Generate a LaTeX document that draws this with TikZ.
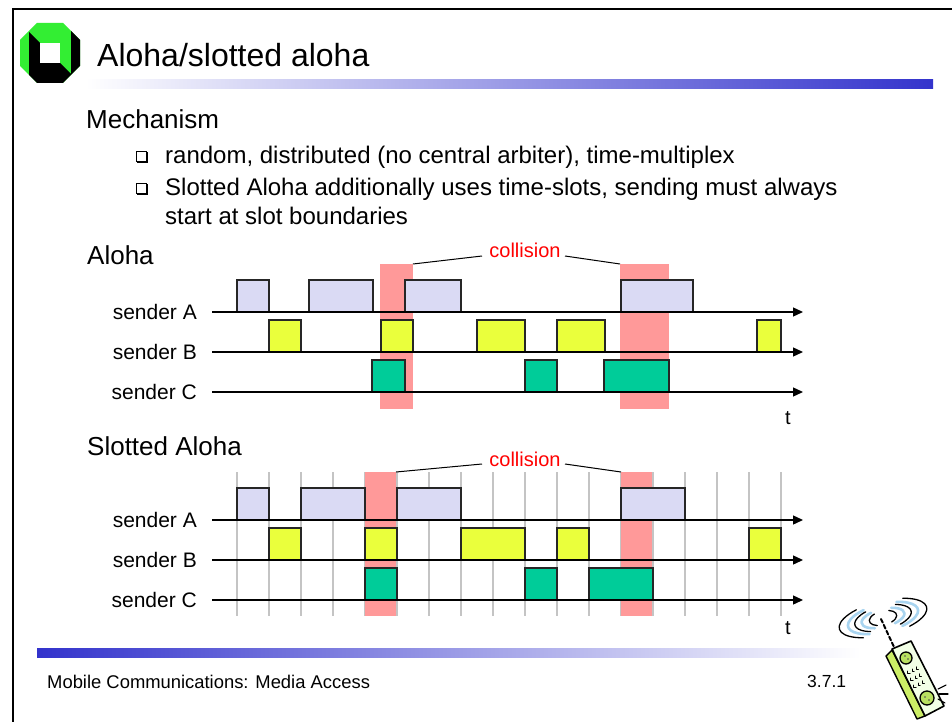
\documentclass[tikz,border=0pt]{standalone}
\usepackage{fontspec}
\setmainfont{Liberation Sans}
\usetikzlibrary{arrows.meta}

\definecolor{pktA}{HTML}{DADAF4}
\definecolor{pktB}{HTML}{EAFF3C}
\definecolor{pktC}{HTML}{00CC99}
\definecolor{hit}{HTML}{FF9999}
\definecolor{barblue}{HTML}{3333CC}
\definecolor{barmid}{HTML}{BBBBE8}
\definecolor{logogreen}{HTML}{33EE33}
\definecolor{gridgray}{HTML}{C4C4C4}
\definecolor{wave}{HTML}{A8D4F0}
\definecolor{phoneface}{HTML}{F2FFE6}
\definecolor{phonelime}{HTML}{CCEE66}
\definecolor{btngreen}{HTML}{B8E060}

\newcommand\fs[2]{\fontsize{#1}{#2}\selectfont}
% shadowed square bullet, top-left corner at (#1,#2)
\newcommand\sqbullet[2]{%
  \draw[line width=0.9pt] (#1,#2) rectangle (#1+10,#2+10);
  \draw[line width=2pt] (#1+1,#2+11.3) -- (#1+11.3,#2+11.3) -- (#1+11.3,#2+1);}

\tikzset{
  pkt/.style={draw=black!85, line width=1.3pt},
  timeline/.style={line width=1.3pt, -{Triangle[length=10pt,width=9pt]}},
  slotline/.style={draw=gridgray, line width=1.2pt},
  lbl/.style={font=\fs{21}{25}, inner sep=0pt, anchor=east},
  colltext/.style={text=red, font=\fs{20}{24}, inner sep=0pt},
  leader/.style={line width=1pt},
  tlabel/.style={font=\fs{20}{24}, inner sep=0pt},
  heading/.style={anchor=base west, inner sep=0pt, font=\fs{26}{31}},
  bodytext/.style={anchor=base west, inner sep=0pt, font=\fs{24}{28}},
}

\begin{document}
\begin{tikzpicture}[x=1pt,y=-1pt]
\useasboundingbox (0,0) rectangle (952,722);
\fill[white] (0,0) rectangle (952,722);

% slide frame (top and left edges)
\draw[line width=2pt] (13,722) -- (13,9) -- (952,9);

% university logo
\begin{scope}[shift={(20,23)}]
  \fill[logogreen] (17,0) -- (43,0) -- (60,17) -- (60,43) -- (43,60) -- (17,60) -- (0,43) -- (0,17) -- cycle;
  \fill[black] (51,8) -- (60,17) -- (60,43) -- (43,60) -- (17,60) -- (9,52) -- (9,51) -- (51,51) -- cycle;
  \fill[black] (9,9) -- (20,20) -- (20,40) -- (40,40) -- (51,51) -- (9,51) -- cycle;
  \fill[white] (20,20) rectangle (40,40);
\end{scope}

% title and header bar
\node[anchor=base west, inner sep=0pt, font=\fs{32}{38}] (title) at (97,67) {Aloha/slotted aloha};
\shade[left color=white, middle color=barmid, right color=barblue] (85,80) rectangle (933,89);

% body text
\node[heading] (mech) at (86,129) {Mechanism};
\sqbullet{136}{151}
\node[bodytext] (b1) at (165,164) {random, distributed (no central arbiter), time-multiplex};
\sqbullet{136}{183}
\node[bodytext] (b2) at (165,196) {Slotted Aloha additionally uses time-slots, sending must always};
\node[bodytext] (b3) at (165,224) {start at slot boundaries};

% ---------------- pure Aloha ----------------
\node[heading] (aloha) at (87,264) {Aloha};
\fill[hit] (380,264) rectangle (413,409);
\fill[hit] (620,264) rectangle (669,409);
\coordinate (ahit1) at (413,264);
\coordinate (ahit2) at (620,264);

% sender A
\foreach \a/\b in {237/269, 309/373, 405/461, 621/693}
  \filldraw[pkt, fill=pktA] (\a,280) rectangle (\b,312);
% sender B
\foreach \a/\b in {269/301, 381/413, 477/525, 557/605, 757/781}
  \filldraw[pkt, fill=pktB] (\a,320) rectangle (\b,352);
% sender C
\foreach \a/\b in {372/405, 525/557, 604/669}
  \filldraw[pkt, fill=pktC] (\a,360) rectangle (\b,392);

\node[lbl] (asA) at (197,312) {sender A};
\node[lbl] (asB) at (197,352) {sender B};
\node[lbl] (asC) at (197,392) {sender C};
\coordinate (aendA) at (803,312);
\coordinate (aendB) at (803,352);
\coordinate (aendC) at (803,392);
\draw[timeline] (212,312) -- (aendA);
\draw[timeline] (212,352) -- (aendB);
\draw[timeline] (212,392) -- (aendC);
\node[tlabel] (at) at (788,418) {t};

\node[colltext] (acoll) at (525,250) {collision};
\coordinate (acollL) at (482,256);
\coordinate (acollR) at (565,256);
\draw[leader] (ahit1) -- (acollL);
\draw[leader] (acollR) -- (ahit2);

% ---------------- slotted Aloha ----------------
\node[heading] (slotted) at (87,455) {Slotted Aloha};
\foreach \k in {0,...,17}
  \draw[slotline] (237+32*\k,472) -- (237+32*\k,616);
\fill[hit] (365,472) rectangle (396,616);
\fill[hit] (621,472) rectangle (652,616);
\coordinate (shit1) at (396,472);
\coordinate (shit2) at (621,472);

% sender A (slot indices)
\foreach \a/\b in {0/1, 2/4, 5/7, 12/14}
  \filldraw[pkt, fill=pktA] (237+32*\a,488) rectangle (237+32*\b,520);
% sender B
\foreach \a/\b in {1/2, 4/5, 7/9, 10/11, 16/17}
  \filldraw[pkt, fill=pktB] (237+32*\a,528) rectangle (237+32*\b,560);
% sender C
\foreach \a/\b in {4/5, 9/10, 11/13}
  \filldraw[pkt, fill=pktC] (237+32*\a,568) rectangle (237+32*\b,600);

\node[lbl] (ssA) at (197,520) {sender A};
\node[lbl] (ssB) at (197,560) {sender B};
\node[lbl] (ssC) at (197,600) {sender C};
\coordinate (sendA) at (803,520);
\coordinate (sendB) at (803,560);
\coordinate (sendC) at (803,600);
\draw[timeline] (212,520) -- (sendA);
\draw[timeline] (212,560) -- (sendB);
\draw[timeline] (212,600) -- (sendC);
\node[tlabel] (st) at (788,628) {t};

\node[colltext] (scoll) at (525,459) {collision};
\coordinate (scollL) at (482,464);
\coordinate (scollR) at (565,464);
\draw[leader] (shit1) -- (scollL);
\draw[leader] (scollR) -- (shit2);

% footer
\shade[left color=barblue, middle color=barmid, right color=white] (37,648) rectangle (860,657);
\node[anchor=base west, inner sep=0pt, font=\fs{18.4}{22}] (foot) at (47,688) {Mobile Communications: Media Access};
\node[anchor=base west, inner sep=0pt, font=\fs{17.5}{21}] (page) at (807,687) {3.7.1};

% mobile phone sketch
\begin{scope}[line join=round, line cap=round]
  % radio waves around the antenna tip, tilted
  \begin{scope}[rotate around={14:(883,618)}]
    \foreach \rx/\ry in {22/9, 36/14}{
      \draw[wave, line width=2.6pt] ({883+\rx*cos(118)},{618+\ry*sin(118)}) arc[start angle=118, end angle=242, x radius=\rx, y radius=\ry];
      \draw[wave, line width=2.6pt] ({883+\rx*cos(-62)},{618+\ry*sin(-62)}) arc[start angle=-62, end angle=62, x radius=\rx, y radius=\ry];
    }
    \foreach \rx/\ry in {14/7, 29/12, 45/17}{
      \draw[line width=1.3pt] ({883+\rx*cos(122)},{618+\ry*sin(122)}) arc[start angle=122, end angle=238, x radius=\rx, y radius=\ry];
      \draw[line width=1.3pt] ({883+\rx*cos(-58)},{618+\ry*sin(-58)}) arc[start angle=-58, end angle=58, x radius=\rx, y radius=\ry];
    }
  \end{scope}
  % antenna
  \draw[line width=2pt, dash pattern=on 4pt off 2.5pt] (881,619) -- (894,647);
  % body
  \filldraw[fill=phonelime, line width=1.4pt] (886,656) -- (892,650) -- (925,716) -- (917,719) -- cycle;
  \filldraw[fill=phoneface, line width=1.6pt] (892,649) -- (911,641) -- (944,706) -- (925,716) -- cycle;
  % buttons
  \filldraw[fill=btngreen, line width=1.3pt] (906,658) circle (6);
  \filldraw[fill=btngreen, line width=1.3pt] (927,698) circle (7);
  \fill[black!70] (905,656) circle (0.8) (908,659) circle (0.8) (925,697) circle (0.8) (929,700) circle (0.8);
  % keypad
  \foreach \cx/\cy in {912/669, 915/676, 918/683}{
    \foreach \d in {-1,0,1}{
      \draw[line width=1pt] (\cx+4.2*\d,\cy-2.1*\d) -- ++(0,2.2) -- ++(2.2,0);
    }
  }
  % ringing marks
  \draw[line width=1.1pt] (938,689) -- (946,685);
  \draw[line width=1.1pt] (939,694) -- (948,694);
  \draw[line width=1.1pt] (938,699) -- (945,703);
\end{scope}
\end{tikzpicture}
\end{document}
